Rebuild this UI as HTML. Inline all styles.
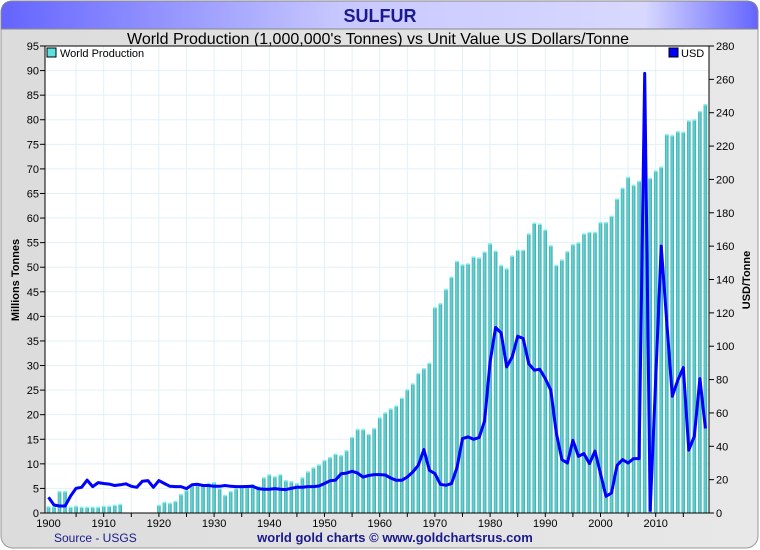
<!DOCTYPE html>
<html><head><meta charset="utf-8"><style>
body{margin:0;background:#fff;}
#wrap{position:relative;width:760px;height:550px;overflow:hidden;font-family:"Liberation Sans",sans-serif;}
</style></head><body>
<div id="wrap">
<svg id="svg" width="760" height="550" xmlns="http://www.w3.org/2000/svg">
<defs>
<linearGradient id="bg" x1="0" x2="1" y1="0" y2="0"><stop offset="0" stop-color="#dcdcdc"/><stop offset="1" stop-color="#e8e8e8"/></linearGradient>
<linearGradient id="tb" x1="0" x2="1" y1="0" y2="0"><stop offset="0" stop-color="#6464ff"/><stop offset="0.45" stop-color="#c8c8ff"/><stop offset="0.85" stop-color="#d8d8ff"/><stop offset="1" stop-color="#6464ff"/></linearGradient>
<linearGradient id="barg" x1="0" x2="1" y1="0" y2="0"><stop offset="0" stop-color="#3aa8a8"/><stop offset="0.4" stop-color="#6ad8d8"/><stop offset="1" stop-color="#3aa8a8"/></linearGradient>
</defs>
<rect x="1" y="1" width="757" height="547" rx="12" fill="url(#bg)" stroke="#999"/>
<path d="M1,29 L1,13 Q1,1 13,1 L746,1 Q758,1 758,13 L758,29 Z" fill="url(#tb)" stroke="#888"/>
<text x="380" y="22" text-anchor="middle" font-size="18" font-weight="bold" fill="#1a1a8c">SULFUR</text>
<text x="378" y="44" text-anchor="middle" font-size="16" fill="#000">World Production (1,000,000's Tonnes) vs Unit Value US Dollars/Tonne</text>
<rect x="45" y="46" width="664" height="467" fill="#fff"/>
<g id="grid"></g><g id="bars"></g><g id="line"></g><g id="axes"></g>
<rect x="47" y="48" width="9" height="9" fill="#5ee0e0" stroke="#000"/>
<text x="60" y="57" font-size="11" fill="#000">World Production</text>
<rect x="669" y="48" width="9" height="9" fill="#0000ff" stroke="#000"/>
<text x="681" y="57" font-size="11" fill="#000">USD</text>
<text transform="translate(19,280) rotate(-90)" text-anchor="middle" font-size="11" font-weight="bold">Millions Tonnes</text>
<text transform="translate(750,280) rotate(-90)" text-anchor="middle" font-size="11" font-weight="bold">USD/Tonne</text>
<text x="54" y="542" font-size="12" fill="#1a1a8c">Source - USGS</text>
<text x="395" y="542" text-anchor="middle" font-size="13" font-weight="bold" fill="#1a1a8c">world gold charts © www.goldchartsrus.com</text>
</svg>
</div>
<script>
const years=[];for(let y=1900;y<=2019;y++)years.push(y);
const production=[1.3,1.3,4.4,4.4,1.2,1.4,1.2,1.2,1.2,1.2,1.4,1.4,1.6,1.8,0,0,0,0,0,0,
1.6,2.2,2.0,2.4,3.8,4.6,5.6,6,5.8,6,6.2,5,3.6,4.4,5,5.4,5.6,5.8,5.4,7.2,
7.8,7.4,7.8,6.6,6.4,6,7.2,8.4,9.2,9.8,10.7,11.3,12,11.7,12.7,15.4,17,17,16,17.2,
19.4,20.4,21.2,21.8,23.4,25.1,26.3,28.4,29.4,30.5,41.8,42.6,45.5,48,51.2,50.5,50.7,52.1,51.9,53.1,
54.8,53.3,50.4,49.7,52.3,53.5,53.5,56.8,59,58.8,57.6,54.4,50.4,51.5,53.2,54.6,55,56.8,57.1,57.1,
59.1,59.1,60.4,63.9,66.1,68.3,66.7,67.5,67.5,68.1,69.6,70.4,77,76.8,77.6,77.5,79.8,80,81.7,83.1];
const usd=[9.4,4.8,4.2,4.2,10.2,14.8,15.4,19.7,15.8,18.2,17.7,17.3,16.5,16.9,17.5,16,15.4,19,19.4,15.4,
19.4,17.7,16,15.8,15.8,14.6,16.9,17.2,16.5,16.5,16,16,16.5,16,15.8,15.8,15.9,16,14.6,14.2,
14.2,14.6,14.2,14,14.8,15.4,15.4,15.8,15.8,16.2,17.7,19.3,19.7,23.5,23.9,25,23.9,21.5,22.5,23,
23,22.8,21,19.6,19.6,21.6,24.6,28.6,38,25.6,23.6,17.2,16.6,17.6,27.2,44.6,45.6,44.2,45.2,55.2,
90.6,111.2,108,87.6,93.6,106,104.6,89.6,85.6,86.2,80.6,73.6,48,32,30,43.6,34,35.6,29.6,37.2,
23.6,10,12,28.6,32,30,32.6,32.6,263.6,1.6,80,160,115,70,79.6,87.2,37.7,46,80.6,50.7];
const leftTicks=[0,5,10,15,20,25,30,35,40,45,50,55,60,65,70,75,80,85,90,95];
const rightTicks=[0,20,40,60,80,100,120,140,160,180,200,220,240,260,280];
const xTicks=[1900,1910,1920,1930,1940,1950,1960,1970,1980,1990,2000,2010];
const NS="http://www.w3.org/2000/svg";
const X0=48.5,PX=5.52,YB=513,YT=46;
const x=y=>X0+(y-1900)*PX;
const yl=v=>YB-v/95*(YB-YT);
const yr=v=>YB-v/280*(YB-YT);
function mk(tag,attrs,parent){const e=document.createElementNS(NS,tag);for(const k in attrs)e.setAttribute(k,attrs[k]);parent.appendChild(e);return e;}
const grid=document.getElementById('grid'),bars=document.getElementById('bars'),line=document.getElementById('line'),axes=document.getElementById('axes');
for(const t of leftTicks){if(t>0){const g=mk('line',{x1:45,x2:709,y1:yl(t),y2:yl(t),stroke:'#e3f0f8','stroke-width':1},grid);

}
mk('line',{x1:40,x2:45,y1:yl(t),y2:yl(t),stroke:'#000'},axes);
const lb=mk('text',{x:39,y:yl(t)+4,'text-anchor':'end','font-size':11},axes);lb.textContent=t;

}
for(const t of rightTicks){mk('line',{x1:709,x2:714,y1:yr(t),y2:yr(t),stroke:'#000'},axes);
const lb=mk('text',{x:716,y:yr(t)+4,'font-size':11},axes);lb.textContent=t;

}
for(let yv=1905;yv<=2015;yv+=5){const g=mk('line',{x1:x(yv),x2:x(yv),y1:YT,y2:YB,stroke:'#e3f0f8'},grid);


mk('line',{x1:x(yv),x2:x(yv),y1:YB,y2:YB+4,stroke:'#000'},axes);}
for(const t of xTicks){const lb=mk('text',{x:x(t),y:527,'text-anchor':'middle','font-size':11},axes);lb.textContent=t;

}
mk('line',{x1:45,x2:45,y1:YT,y2:YB,stroke:'#000'},axes);
mk('line',{x1:709,x2:709,y1:YT,y2:YB,stroke:'#000'},axes);
mk('line',{x1:45,x2:709,y1:YT,y2:YT,stroke:'#000'},axes);
mk('line',{x1:45,x2:709,y1:YB,y2:YB,stroke:'#000'},axes);
years.forEach((yv,i)=>{const v=production[i];if(!v)return;
const b=mk('rect',{x:x(yv)-1.8,y:yl(v),width:3.6,height:YB-yl(v),fill:'url(#barg)'},bars);


mk('rect',{x:x(yv)-1.8,y:yl(v)-0.5,width:3.6,height:1.5,fill:'#7ff4f4'},bars);});
const pts=years.map((yv,i)=>x(yv).toFixed(1)+','+yr(usd[i]).toFixed(1)).join(' ');
const pl=mk('polyline',{points:pts,fill:'none',stroke:'#0000ff','stroke-width':3,'stroke-linejoin':'round'},line);


</script>
</body></html>
